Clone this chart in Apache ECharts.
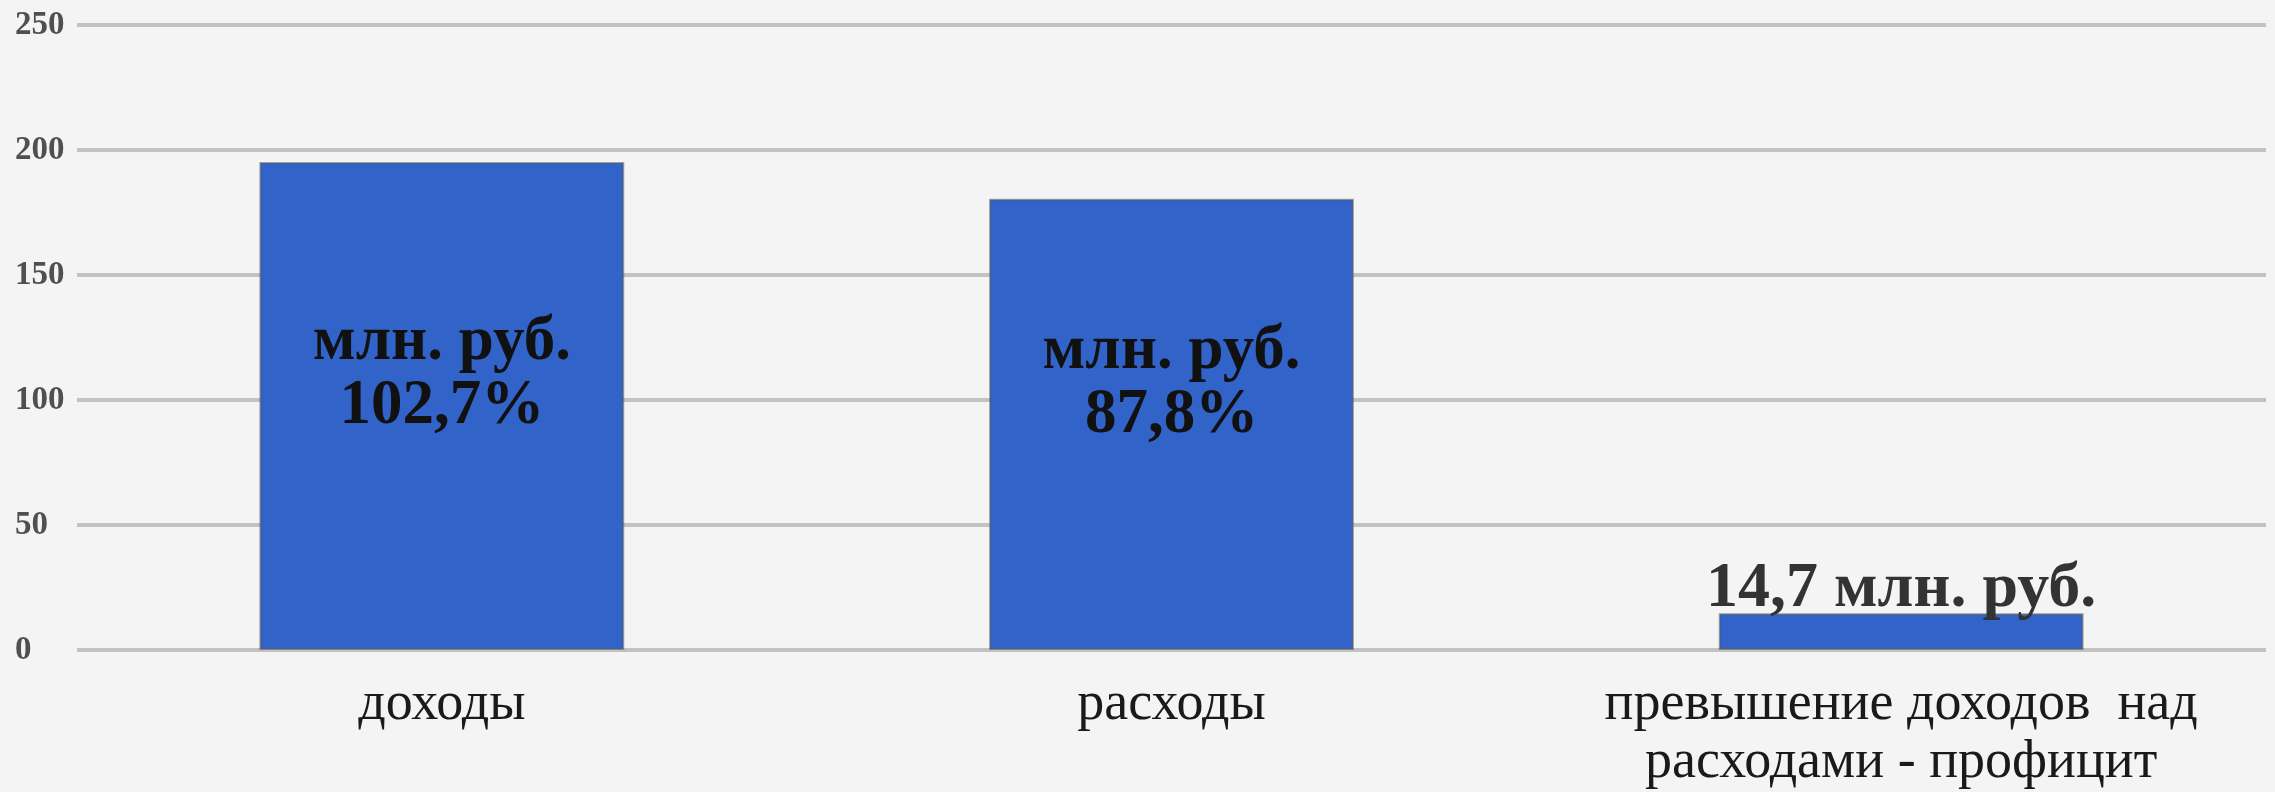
<!DOCTYPE html>
<html lang="ru">
<head>
    <meta charset="UTF-8">
    <title>Доходы и расходы</title>
    <script src="https://cdn.jsdelivr.net/npm/echarts@6/dist/echarts.min.js"></script>
    <style>
        html, body { margin: 0; padding: 0; background: #f4f4f4; }
        #main { width: 2275px; height: 792px; }
    </style>
</head>
<body>
    <div id="main"></div>
    <script>
        // категории и значения (млн. руб.)
        var categories = ['доходы', 'расходы', 'превышение доходов  над\nрасходами - профицит'];
        var values = [195.2, 180.5, 14.7];
        var barLabels = ['млн. руб.\n102,7%', 'млн. руб.\n87,8%', '14,7 млн. руб.'];
        var yTicks = [0, 50, 100, 150, 200, 250];

        var serif = '"Liberation Serif", "DejaVu Serif", serif';
        // где внутри столбца стоит подпись (по вертикали)
        var insidePos = ['43.5%', '41%'];

        var data = values.map(function (v, i) {
            var item = { value: v };
            if (i < 2) {
                item.label = {
                    position: ['50%', insidePos[i]],
                    align: 'center',
                    verticalAlign: 'middle',
                    color: '#111',
                    fontSize: 63,
                    lineHeight: 64
                };
            } else {
                item.label = {
                    position: 'top',
                    distance: -8,
                    color: '#333',
                    fontSize: 64
                };
            }
            return item;
        });

        var option = {
            backgroundColor: '#f4f4f4',
            animation: false,
            grid: { left: 77, right: 9, top: 25, bottom: 137, containLabel: false },
            xAxis: {
                type: 'category',
                data: categories,
                axisLine: { show: false },
                axisTick: { show: false },
                axisLabel: {
                    interval: 0,
                    margin: 26,
                    fontFamily: serif,
                    fontSize: 54,
                    lineHeight: 58,
                    color: '#1a1a1a'
                }
            },
            yAxis: {
                type: 'value',
                min: yTicks[0],
                max: yTicks[yTicks.length - 1],
                interval: 50,
                axisLine: { show: false },
                axisTick: { show: false },
                axisLabel: {
                    align: 'left',
                    margin: 62,
                    fontFamily: serif,
                    fontWeight: 'bold',
                    fontSize: 33,
                    color: '#505050'
                },
                splitLine: { lineStyle: { color: '#c2c2c2', width: 4 } }
            },
            series: [{
                type: 'bar',
                data: data,
                barWidth: '50%',
                itemStyle: {
                    color: '#3163c9',
                    borderColor: 'rgba(90,90,90,0.55)',
                    borderWidth: 2
                },
                label: {
                    show: true,
                    fontFamily: serif,
                    fontWeight: 'bold',
                    formatter: function (p) { return barLabels[p.dataIndex]; }
                }
            }]
        };

        var myChart = echarts.init(document.getElementById('main'));
        myChart.setOption(option);
    </script>
</body>
</html>
